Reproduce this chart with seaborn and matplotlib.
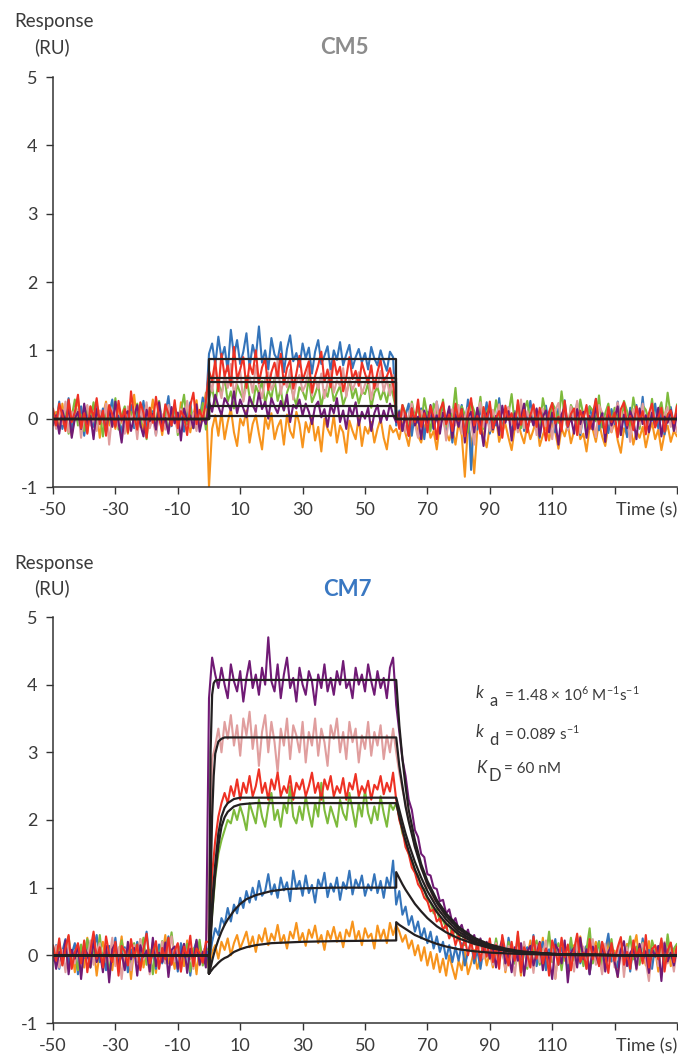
import numpy as np
import pandas as pd
import matplotlib
matplotlib.use("Agg")
import matplotlib.pyplot as plt
import seaborn as sns

# ---------------- data (responses in hundredths of RU, 1 s sampling) ----------------
# each trace: [pre-injection (-50..-1 s), injection (0..59 s), dissociation (60..150 s)]
phase_spans = [(-50, -1), (0, 59), (60, 150)]
series_order = ["orange", "blue", "green", "pink", "purple", "red"]
series_colors = {"orange": "#F7941D", "blue": "#3474BA", "green": "#7DBA3C",
                 "pink": "#E09E9E", "purple": "#701A75", "red": "#EE3124"}

cm5_orange = [
    [-5, 10, -18, 22, -8, 15, -25, 5, 30, -12, 8, -20, 18, -3, 12, -28, 6, 25, -10, 2, -15, 20, -6, 14, -22, 9, 35, -8, 4, -18, 16, -2, 28, -14, 7, -24, 11, 1, -9, 19, -16, 24, -4, 13, -20, 6, 27, -11, 10, 38],
    [-100, -15, 5, -25, 10, -30, -5, 15, -20, -40, 0, -10, 12, -35, -8, 5, -22, -45, 2, -15, 8, -30, -12, -2, -38, 6, -18, -28, 10, -8, -42, -5, -20, 3, -32, -12, -48, 0, -15, -25, 5, -35, -10, -20, -50, -3, -18, -30, 2, -40, -12, -22, -5, -35, -15, 0, -28, -45, -10, -20],
    [-15, -30, -5, -22, -40, -10, 5, -25, -35, -12, -2, -28, -18, -45, -8, 0, -20, -32, -14, -38, -6, -24, -85, -10, -30, -80, -16, -2, -26, -42, -12, -20, 2, -34, -18, -8, -28, -46, -14, -4, -22, -36, -10, -30, -16, 0, -40, -24, -12, -32, -6, -20, -44, -14, -26, -8, -36, -18, -2, -30, -22, -48, -12, -16, -34, -6, -26, -40, -10, -20, -4, -32, -50, -14, -24, -8, -38, -18, -28, -12, -42, -20, -6, -30, -16, -46, -22, -10, -34, -18, -26],
]
cm5_blue = [
    [12, -8, 25, -15, 5, 30, -20, 8, -5, 18, -25, 10, 3, -12, 22, -6, 15, -18, 7, 28, -10, 4, -22, 14, -3, 20, -14, 9, -7, 26, -16, 2, 11, -24, 17, -4, 6, 33, -11, 19, -9, 13, -19, 1, 24, -13, 8, -2, 31, 16],
    [95, 110, 78, 120, 88, 105, 70, 130, 92, 115, 80, 98, 125, 75, 108, 90, 135, 82, 100, 72, 118, 94, 86, 112, 68, 102, 122, 84, 96, 76, 110, 88, 104, 66, 98, 115, 80, 92, 106, 70, 100, 86, 112, 78, 94, 108, 74, 90, 102, 82, 96, 72, 105, 88, 78, 100, 84, 70, 98, 90],
    [-10, 12, -18, 5, 22, -25, 8, -6, 15, -30, 10, 3, -15, 25, -8, 18, -20, 6, -35, 12, -4, 20, -12, 28, -75, 9, -16, 14, -3, 24, -22, 7, -10, 30, -14, 2, 17, -26, 11, -5, 21, -18, 4, 26, -9, 13, -28, 8, 19, -12, 3, -20, 15, -7, 27, -15, 10, -2, 23, -24, 6, -11, 18, -4, 29, -17, 9, 1, -21, 14, -8, 25, -13, 5, -27, 16, -6, 20, -10, 32, -19, 7, -3, 22, -14, 11, -23, 4, 17, -9, 13],
]
cm5_green = [
    [8, -12, 20, -5, 14, -22, 3, 28, -10, 6, -18, 15, -2, 24, -14, 9, -26, 12, 1, -8, 30, -16, 5, 18, -20, 10, -4, 22, -12, 7, -30, 16, 2, -10, 26, -6, 13, -18, 4, 20, -24, 11, 35, -8, 17, -14, 6, -2, 23, -16],
    [30, 45, 20, 55, 35, 60, 25, 40, 15, 50, 38, 28, 62, 32, 18, 48, 36, 55, 22, 42, 30, 58, 26, 44, 12, 38, 52, 34, 20, 46, 40, 28, 60, 24, 36, 50, 18, 42, 32, 55, 26, 38, 48, 20, 34, 58, 30, 44, 22, 40, 36, 52, 16, 38, 46, 28, 42, 24, 50, 34],
    [12, -5, 20, 8, -14, 25, 2, 16, -10, 30, 5, -18, 22, 10, -6, 28, -12, 14, 3, 45, -8, 18, 6, -20, 24, 11, -3, 32, -15, 9, 19, -10, 27, 4, -22, 15, 7, 36, -8, 21, -14, 12, 26, -5, 17, 1, -18, 30, 8, -12, 23, 14, -6, 40, 3, -16, 20, 10, -9, 28, 5, -20, 18, 12, -4, 34, -13, 8, 22, -7, 16, 2, -24, 26, 11, -10, 31, 6, -15, 19, 13, -3, 29, -11, 9, 24, -6, 38, 4, -17, 21],
]
cm5_pink = [
    [5, -15, 18, -8, 25, -20, 10, -3, 14, -28, 7, 20, -10, 2, -18, 12, -5, 22, -38, 8, 15, -12, 4, -22, 18, -2, 9, -30, 16, -6, 24, -14, 1, -25, 11, 6, -16, 20, -9, 3, -20, 14, -4, 26, -12, 8, -18, 10, 0, 28],
    [60, 40, 75, 50, 30, 65, 45, 80, 35, 55, 70, 25, 50, 62, 38, 78, 48, 30, 58, 68, 42, 52, 85, 36, 60, 46, 72, 28, 54, 64, 40, 50, 76, 34, 58, 44, 66, 30, 52, 70, 38, 56, 48, 74, 32, 60, 42, 54, 68, 36, 50, 62, 28, 56, 46, 70, 40, 58, 34, 64],
    [8, -12, 15, -20, 5, 22, -8, -28, 12, 3, -16, 18, -4, 25, -14, 10, -32, 6, 14, -10, 20, -22, 2, 16, -6, -38, 9, 24, -12, 4, -18, 13, -2, 21, -26, 7, 17, -9, 1, -20, 28, -14, 11, -5, 19, -24, 6, 15, -11, 3, -30, 12, 23, -7, 8, -17, 18, -3, 26, -21, 5, 13, -13, 2, -27, 20, 9, -8, 16, -19, 4, 24, -15, 10, -1, -34, 14, 7, -10, 22, -16, 3, 18, -6, 11, -23, 6, 17, -12, 1, -20],
]
cm5_purple = [
    [-10, 5, -22, 12, -6, 18, -28, 0, 10, -15, 22, -8, 4, -30, 14, -2, 8, -20, 16, -12, 25, -5, -35, 6, 11, -18, 3, 20, -9, -26, 13, -4, 7, -16, 24, -11, 1, -22, 17, -7, 9, -32, 15, -3, 5, -14, 21, -19, 2, -8],
    [25, 10, 35, 18, 5, 30, 22, 12, 40, 8, 28, 15, 2, 32, 20, 10, 38, 14, 25, 0, 30, 18, 8, 26, 12, 35, -5, 20, 15, 28, 5, 22, 10, -8, 18, 25, 2, 14, -12, 20, 8, 30, -5, 12, -15, 18, 4, 24, -10, 10, 0, 16, -18, 8, 20, -6, 12, -2, 22, 5],
    [-5, 10, -18, 8, -25, 15, -10, 3, -30, 12, -6, 20, -15, 5, -22, 9, -2, 18, -28, 6, -12, 14, -35, 2, 10, -20, 16, -8, -40, 7, 13, -16, 4, -24, 19, -6, 11, -32, 8, -14, 1, 22, -18, 5, -10, 15, -26, 3, 12, -20, 9, -4, -38, 6, 17, -12, 2, -22, 14, -8, 10, -28, 4, -16, 20, -6, 8, -34, 12, -10, 1, 18, -24, 6, -14, 11, -2, -30, 15, -8, 5, -20, 9, -12, 16, -26, 3, -6, 13, -18, 7],
]
cm5_red = [
    [15, -10, 22, 5, -18, 28, -5, 10, 35, -14, 8, -22, 18, 2, 30, -8, 12, -25, 20, 6, -12, 26, -3, 14, -20, 40, 4, -16, 24, 9, -28, 16, -6, 32, 1, -18, 21, 7, -10, 27, -14, 11, 3, -24, 19, 38, -8, 13, -2, 25],
    [70, 55, 85, 40, 95, 62, 78, 48, 105, 58, 72, 90, 45, 80, 65, 100, 52, 75, 88, 42, 68, 82, 60, 95, 50, 74, 86, 44, 66, 92, 56, 70, 84, 38, 62, 78, 98, 54, 72, 46, 88, 64, 76, 40, 60, 90, 58, 70, 48, 82, 66, 52, 78, 44, 68, 86, 56, 62, 74, 50],
    [10, -15, 20, 5, -25, 15, -5, 28, -12, 8, -20, 18, 2, -30, 12, 24, -8, 6, -18, 22, -3, 14, -26, 9, 30, -10, 4, -22, 17, -6, 25, -14, 1, 11, -28, 19, -2, 8, -16, 27, -9, 13, -20, 5, 21, -12, 16, -4, -32, 10, 23, -7, 3, -18, 26, -11, 7, 15, -24, 12, -1, 20, -15, 6, 29, -8, 2, -21, 17, -5, 9, -27, 14, 24, -10, 4, -17, 18, -3, 11, -23, 8, 22, -13, 1, 16, -19, 6, 12, -7, 19],
]

cm7_orange = [
    [5, -12, 18, -6, 22, -15, 8, -25, 12, 2, -18, 26, -8, 14, -30, 6, 20, -10, 3, -22, 16, -4, 28, -14, 9, -35, 11, 0, 24, -18, 7, -8, 19, -26, 13, -2, 30, -12, 4, -20, 15, 8, -16, 22, -6, 10, -28, 17, -3, 12],
    [-20, 5, 15, -5, 20, 8, 25, 0, 18, 30, 10, 22, 35, 12, 28, 5, 30, 20, 40, 15, 32, 22, 45, 18, 30, 10, 35, 25, 48, 20, 33, 14, 38, 26, 44, 18, 30, 8, 36, 24, 42, 20, 34, 12, 38, 28, 50, 22, 36, 15, 40, 26, 32, 10, 44, 24, 38, 18, 48, 30],
    [45, 35, 20, 30, 10, 22, 0, 15, -8, 12, -15, 5, -20, 2, -25, -5, -30, 0, -18, -35, -8, -22, 5, -28, -12, 8, -20, -5, 12, -15, 4, -18, 10, -6, 20, -25, 2, 14, -12, 8, -30, 16, -4, 22, -16, 6, -10, 26, -20, 0, 12, -34, 9, 18, -8, 3, -22, 15, -14, 28, -6, 10, -26, 5, 20, -12, 1, -18, 24, -9, 7, -32, 13, -3, 17, -20, 11, 30, -10, 4, -15, 21, -7, 9, -24, 14, -2, 25, -16, 6, 12],
]
cm7_blue = [
    [-8, 15, -20, 6, 24, -12, 2, 18, -28, 10, -4, 22, -16, 8, 30, -10, 3, -22, 14, -6, 26, -18, 5, 12, -25, 9, -2, 20, -14, 7, 35, -8, 1, -20, 16, -12, 4, 28, -6, 11, -24, 18, -3, 13, -30, 6, 21, -9, 2, 15],
    [-10, 20, 40, 30, 55, 45, 70, 50, 75, 62, 85, 70, 95, 78, 100, 82, 110, 88, 95, 120, 90, 105, 85, 115, 96, 108, 80, 125, 98, 110, 88, 118, 92, 104, 78, 112, 100, 122, 86, 106, 94, 115, 82, 108, 98, 125, 90, 112, 100, 118, 88, 105, 96, 120, 92, 110, 85, 115, 100, 140],
    [75, 95, 60, 72, 45, 58, 35, 50, 25, 40, 18, 35, 10, 28, 5, 20, -5, 15, -10, 12, -8, 18, -15, 5, 20, -12, 8, -20, 10, 2, 15, -10, 22, -5, 8, -18, 26, 3, -12, 18, -25, 6, 12, -8, 30, -16, 4, 20, -22, 9, -3, 24, -14, 11, 1, -20, 16, -6, 28, -12, 5, 14, -28, 10, -2, 21, -15, 7, 32, -9, 3, -18, 19, -4, 12, -24, 17, 0, -11, 25, -7, 8, -20, 14, -1, 22, -13, 6, 18, -5, 10],
]
cm7_green = [
    [12, -6, 20, -14, 5, 28, -10, 3, -22, 16, -2, 24, -18, 9, -8, 30, -12, 6, -26, 14, 1, -16, 22, -4, 10, -20, 18, -9, 4, 26, -14, 8, -28, 15, -3, 21, -11, 2, 34, -7, 12, -19, 6, 17, -24, 10, -1, 23, -15, 7],
    [10, 60, 115, 150, 170, 185, 200, 195, 215, 200, 220, 205, 185, 225, 210, 195, 230, 205, 190, 220, 240, 200, 215, 190, 225, 210, 250, 205, 195, 220, 200, 235, 210, 190, 225, 205, 255, 215, 195, 220, 205, 190, 230, 210, 200, 240, 215, 190, 225, 205, 245, 210, 195, 220, 200, 235, 210, 190, 225, 215],
    [225, 205, 180, 170, 150, 140, 125, 118, 100, 98, 80, 78, 62, 68, 50, 52, 40, 48, 28, 40, 22, 35, 15, 30, 10, 25, 5, 22, 0, 18, 8, -10, 25, -4, 12, -18, 20, 2, -12, 30, -6, 15, -20, 10, 4, 22, -14, 8, -2, 35, -10, 6, 18, -22, 12, -5, 26, -8, 3, 16, -16, 9, 40, -12, 5, 20, -24, 11, -3, 24, -10, 7, 14, -18, 2, 28, -6, 13, -14, 19, 0, -20, 22, 6, -9, 15, -12, 31, -4, 10, 17],
]
cm7_pink = [
    [-6, 14, -18, 8, -25, 20, 2, -12, 16, -30, 10, -4, 22, -14, 6, 18, -20, 4, -8, 26, -16, 12, -35, 9, 1, -22, 15, -10, 24, -6, 7, -28, 13, 3, -18, 20, -12, 5, 28, -9, 11, -24, 17, -2, 8, -20, 14, -15, 6, 10],
    [100, 290, 310, 335, 300, 345, 320, 355, 310, 340, 295, 350, 325, 360, 305, 340, 280, 330, 355, 300, 345, 315, 270, 335, 310, 350, 290, 340, 325, 300, 345, 285, 330, 310, 350, 295, 335, 315, 280, 340, 320, 350, 300, 330, 290, 345, 315, 335, 285, 325, 305, 345, 295, 330, 310, 340, 290, 325, 300, 335],
    [300, 270, 245, 225, 200, 185, 160, 150, 128, 120, 100, 98, 80, 82, 62, 65, 48, 55, 35, 45, 28, 38, 18, 30, 10, 25, 5, 20, -5, 15, 6, -14, 18, -8, 10, -22, 14, 2, -30, 12, -4, 20, -16, 8, -26, 15, -10, 4, 22, -18, 9, -35, 11, -2, 16, -12, 5, -24, 19, -6, 13, -20, 7, 24, -14, 1, -28, 17, -8, 10, -18, 3, 21, -32, 12, -5, 15, -22, 6, 18, -10, -38, 9, 14, -16, 4, 20, -12, 7, -24, 11],
]
cm7_purple = [
    [10, -20, 5, -12, 22, -28, 8, -5, 16, -35, 12, 2, -18, 24, -10, 6, -25, 14, -40, 9, 18, -14, 3, -22, 20, -6, 11, -30, 15, -2, 7, -24, 26, -16, 4, -10, 19, -32, 8, 13, -20, 1, 17, -26, 10, -8, 23, -14, 5, -18],
    [380, 440, 415, 395, 425, 400, 380, 430, 405, 390, 420, 375, 410, 435, 395, 415, 385, 425, 400, 470, 405, 390, 430, 380, 415, 440, 395, 410, 375, 425, 400, 385, 420, 405, 370, 415, 395, 430, 390, 410, 385, 420, 400, 435, 395, 405, 380, 425, 400, 415, 390, 430, 405, 385, 420, 395, 410, 380, 425, 440],
    [370, 330, 290, 265, 230, 215, 185, 175, 150, 145, 120, 118, 100, 98, 80, 82, 62, 68, 48, 55, 38, 45, 28, 38, 20, 30, 12, 25, 5, 20, -5, 15, -18, 8, 24, -12, 3, -25, 12, -8, 18, -30, 6, 14, -15, 2, 20, -22, 10, -4, -35, 16, 7, -12, 22, -40, 4, 11, -18, 26, -6, 9, -28, 13, 1, -14, 19, -24, 5, 15, -10, -32, 8, 21, -16, 3, 12, -20, 17, -7, 6, -26, 10, -2, 14, -38, 18, -9, 4, -15, 11],
]
cm7_red = [
    [15, -8, 25, -15, 10, 30, -20, 5, 18, -12, 22, -25, 8, 35, -5, 12, -18, 28, 2, -10, 20, -30, 14, 6, -15, 24, -3, 16, -22, 9, 32, -12, 4, 21, -20, 11, -6, 26, -14, 7, 18, -24, 13, -2, 29, -16, 10, 3, -11, 20],
    [20, 120, 170, 205, 225, 240, 225, 250, 235, 260, 230, 255, 240, 265, 235, 250, 275, 240, 255, 230, 260, 245, 270, 235, 250, 240, 265, 230, 255, 245, 260, 235, 250, 270, 240, 255, 230, 260, 245, 265, 235, 250, 240, 262, 230, 255, 245, 268, 235, 250, 240, 258, 230, 252, 245, 265, 238, 255, 242, 270],
    [230, 200, 185, 160, 150, 130, 122, 105, 98, 85, 80, 65, 68, 50, 55, 38, 45, 25, 38, 15, 30, 8, 25, 0, 22, -5, 18, -8, 20, -2, 25, -10, 15, -20, 30, 5, -15, 20, -8, 35, -25, 12, 2, -18, 28, -5, 18, -12, 10, -30, 22, 6, -14, 26, -3, 16, -22, 8, 32, -10, 4, -20, 24, -6, 14, -16, 20, 1, -26, 18, -8, 12, 27, -14, 5, -20, 22, -2, 10, -12, 30, -18, 9, 15, -6, 25, -24, 7, 19, -10, 13],
]

# CM5 fitted steady-state levels (RU)
cm5_fit_levels = [0.87, 0.59, 0.54, 0.19, 0.04]
cm5_fit_time = [-50, 0, 0, 60, 60, 150]

# CM7 kinetic fits (RU) read at these times (s)
cm7_fit_time_base = [-50, 0]
cm7_fit_time_assoc = [0, 0.5, 1, 1.5, 2, 3, 4, 5, 6, 8, 10, 12, 15, 20, 25, 30, 40, 50, 60]
cm7_fit_time_dissoc = [60, 61, 62, 63, 64, 66, 68, 70, 73, 76, 80, 85, 90, 95, 100, 110, 120, 135, 150]
cm7_fit_assoc = {
    "purple": [-0.27, 3.0, 3.85, 4.02, 4.06, 4.07, 4.07, 4.07, 4.07, 4.07, 4.07, 4.07, 4.07, 4.07, 4.07, 4.07, 4.07, 4.07, 4.07],
    "pink": [-0.27, 1.0, 2.05, 2.65, 2.98, 3.16, 3.2, 3.22, 3.22, 3.22, 3.22, 3.22, 3.22, 3.22, 3.22, 3.22, 3.22, 3.22, 3.22],
    "red": [-0.27, 0.3, 0.75, 1.08, 1.35, 1.8, 2.05, 2.18, 2.25, 2.31, 2.33, 2.33, 2.33, 2.33, 2.33, 2.33, 2.33, 2.33, 2.33],
    "green": [-0.27, 0.2, 0.6, 0.92, 1.2, 1.62, 1.9, 2.04, 2.12, 2.2, 2.23, 2.24, 2.25, 2.25, 2.25, 2.25, 2.25, 2.25, 2.25],
    "blue": [-0.27, -0.18, -0.08, 0.01, 0.09, 0.23, 0.35, 0.45, 0.53, 0.66, 0.76, 0.83, 0.89, 0.95, 0.98, 0.99, 1.0, 1.0, 1.0],
    "orange": [-0.27, -0.24, -0.21, -0.18, -0.16, -0.11, -0.07, -0.04, -0.02, 0.05, 0.09, 0.12, 0.15, 0.18, 0.19, 0.2, 0.21, 0.215, 0.22],
}
cm7_fit_dissoc = {
    "purple": [4.07, 3.4, 2.9, 2.5, 2.15, 1.7, 1.35, 1.1, 0.82, 0.62, 0.42, 0.26, 0.16, 0.1, 0.06, 0.02, 0.01, 0, 0],
    "pink": [3.22, 2.8, 2.5, 2.2, 1.98, 1.6, 1.3, 1.05, 0.78, 0.58, 0.39, 0.24, 0.15, 0.09, 0.05, 0.02, 0.01, 0, 0],
    "red": [2.33, 2.15, 1.97, 1.8, 1.65, 1.38, 1.15, 0.95, 0.71, 0.53, 0.35, 0.21, 0.13, 0.08, 0.05, 0.02, 0.01, 0, 0],
    "green": [2.25, 2.05, 1.86, 1.69, 1.54, 1.27, 1.05, 0.86, 0.64, 0.47, 0.31, 0.19, 0.11, 0.07, 0.04, 0.02, 0.01, 0, 0],
    "blue": [1.23, 1.14, 1.05, 0.97, 0.9, 0.76, 0.65, 0.55, 0.43, 0.34, 0.25, 0.17, 0.11, 0.07, 0.05, 0.02, 0.01, 0, 0],
    "orange": [0.49, 0.45, 0.42, 0.39, 0.36, 0.3, 0.26, 0.22, 0.17, 0.13, 0.09, 0.06, 0.04, 0.03, 0.02, 0.01, 0, 0, 0],
}

x_ticks = [-50, -30, -10, 10, 30, 50, 70, 90, 110, 130, 150]
x_tick_labels = ["-50", "-30", "-10", "10", "30", "50", "70", "90", "110", "", ""]
y_ticks = [-1, 0, 1, 2, 3, 4, 5]
y_tick_labels = ["-1", "0", "1", "2", "3", "4", "5"]

# ---------------- style ----------------
sns.set_style("white")
plt.rcParams["font.family"] = ["Lato", "DejaVu Sans"]
plt.rcParams["mathtext.fontset"] = "custom"
plt.rcParams["mathtext.rm"] = "Lato"
TXT = "#3a3a3a"
AX = "#333333"
FIT = "#231F20"


def trace_frame(traces):
    rows = []
    for name, phases in traces.items():
        for (a, b), vals in zip(phase_spans, phases):
            tt = np.linspace(a, b, len(vals))
            for t, v in zip(tt, vals):
                rows.append((t, v / 100.0, name))
    return pd.DataFrame(rows, columns=["time", "response", "series"])


cm5_traces = {"orange": cm5_orange, "blue": cm5_blue, "green": cm5_green,
              "pink": cm5_pink, "purple": cm5_purple, "red": cm5_red}
cm7_traces = {"orange": cm7_orange, "blue": cm7_blue, "green": cm7_green,
              "pink": cm7_pink, "purple": cm7_purple, "red": cm7_red}

cm5_df = trace_frame(cm5_traces)
cm7_df = trace_frame(cm7_traces)

rows = []
for i, lvl in enumerate(cm5_fit_levels):
    vals = [0, 0, lvl, lvl, 0, 0]
    for t, v in zip(cm5_fit_time, vals):
        rows.append((t, v, f"f{i}"))
cm5_fit_df = pd.DataFrame(rows, columns=["time", "response", "fit"])

rows = []
for name in cm7_fit_assoc:
    tt = cm7_fit_time_base + cm7_fit_time_assoc + cm7_fit_time_dissoc
    vv = [0, 0] + cm7_fit_assoc[name] + cm7_fit_dissoc[name]
    for t, v in zip(tt, vv):
        rows.append((t, v, name))
cm7_fit_df = pd.DataFrame(rows, columns=["time", "response", "fit"])

W, H = 678, 1058
fig = plt.figure(figsize=(W / 100, H / 100), dpi=100)
ax_top = fig.add_axes([53 / W, 1 - 487 / H, (677 - 53) / W, (487 - 77) / H])
ax_bot = fig.add_axes([53 / W, 1 - 1023 / H, (677 - 53) / W, (1023 - 617) / H])

for ax, df, fdf in [(ax_top, cm5_df, cm5_fit_df), (ax_bot, cm7_df, cm7_fit_df)]:
    sns.lineplot(data=df, x="time", y="response", hue="series", hue_order=series_order,
                 palette=series_colors, units="series", estimator=None, sort=False,
                 linewidth=1.5, legend=False, ax=ax)
    sns.lineplot(data=fdf, x="time", y="response", units="fit", estimator=None,
                 sort=False, color=FIT, linewidth=1.6, legend=False, ax=ax)
    ax.set_xlim(-50, 150)
    ax.set_ylim(-1, 5)
    ax.set_xticks(x_ticks)
    ax.set_xticklabels(x_tick_labels)
    ax.set_yticks(y_ticks)
    ax.set_yticklabels(y_tick_labels)
    ax.set_xlabel("")
    ax.set_ylabel("")
    sns.despine(ax=ax)
    for s in ["left", "bottom"]:
        ax.spines[s].set_color(AX)
        ax.spines[s].set_linewidth(1.1)
    ax.tick_params(axis="both", direction="out", length=5, width=1.0, color=AX,
                   labelsize=13, labelcolor=TXT, pad=6, left=True, bottom=True)
    ax.annotate("Time (s)", xy=(1.0, 0), xycoords="axes fraction", xytext=(0, -11),
                textcoords="offset points", ha="right", va="top", fontsize=13, color=TXT)

# titles and axis captions
fig.text(344 / W, 1 - 48 / H, "CM5", ha="center", va="center", fontsize=16,
         fontweight="bold", color="#8C8C8C")
fig.text(347 / W, 1 - 589 / H, "CM7", ha="center", va="center", fontsize=16,
         fontweight="bold", color="#3A78C2")
for y0 in (22, 563):
    fig.text(54 / W, 1 - y0 / H, "Response", ha="center", va="center", fontsize=13.5, color=TXT)
    fig.text(52 / W, 1 - (y0 + 25) / H, "(RU)", ha="center", va="center", fontsize=13.5, color=TXT)

# kinetic constants
kin = [("k", "a", r"= 1.48 × 10$^{6}$ M$^{-1}$s$^{-1}$", 693),
       ("k", "d", r"= 0.089 s$^{-1}$", 732),
       ("K", "D", "= 60 nM", 768)]
for main, sub, rest, yp in kin:
    fig.text(476 / W, 1 - yp / H, main, ha="left", va="center", fontsize=12,
             style="italic", color=TXT)
    fig.text(489 / W, 1 - (yp + 8) / H, sub, ha="left", va="center", fontsize=12, color=TXT)
    fig.text(504 / W, 1 - (yp + 1) / H, rest, ha="left", va="center", fontsize=11, color=TXT)

fig.savefig("out.png", dpi=100)
